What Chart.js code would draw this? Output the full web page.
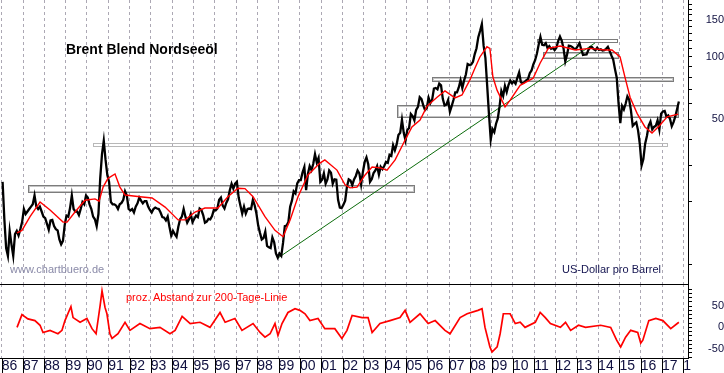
<!DOCTYPE html>
<html>
<head>
<meta charset="utf-8">
<script src="https://cdn.jsdelivr.net/npm/chart.js@4.4.1/dist/chart.umd.min.js"></script>
<style>
  html, body { margin: 0; padding: 0; background: #fff; }
  #wrap { position: relative; width: 724px; height: 373px; overflow: hidden; font-family: "Liberation Sans", Arial, sans-serif; }
  canvas { position: absolute; left: 0; }
  #main { top: 0; }
  #dev { top: 284px; }
  .lbl { position: absolute; white-space: nowrap; line-height: 1; }
</style>
</head>
<body>
<div id="wrap">
  <canvas id="main" width="724" height="284"></canvas>
  <canvas id="dev" width="724" height="89"></canvas>
  <div class="lbl" style="left:66px;top:42px;font-size:14px;font-weight:bold;color:#000;">Brent Blend Nordseeöl</div>
  <div class="lbl" style="left:10px;top:264px;font-size:11px;color:#8a8aa8;">www.chartbuero.de</div>
  <div class="lbl" style="left:562px;top:264px;font-size:11px;color:#141450;">US-Dollar pro Barrel</div>
  <div class="lbl" style="left:126px;top:292px;font-size:11px;color:#ff0000;">proz. Abstand zur 200-Tage-Linie</div>
</div>
<script>
// Brent, US-Dollar pro Barrel, one row per year (Jan..Dec)
const firstYear = 1986;
const brentMonthly = [
  [25.0, 16.5, 12.0, 11.0, 14.5, 12.5, 11.0, 14.0, 14.5, 13.8, 14.8, 16.0], // 1986
  [18.5, 17.5, 18.0, 18.5, 19.0, 19.5, 21.5, 19.0, 18.5, 19.0, 18.0, 17.0],
  [16.7, 15.7, 14.7, 16.3, 16.4, 15.3, 14.8, 14.6, 13.2, 12.5, 13.0, 15.5],
  [17.2, 17.0, 18.7, 21.5, 18.5, 18.0, 18.0, 17.3, 18.5, 20.0, 19.5, 21.5],
  [21.0, 19.5, 18.5, 17.0, 16.5, 15.3, 17.5, 26.0, 34.0, 39.5, 32.0, 27.0], // 1990
  [25.0, 20.0, 19.5, 19.5, 19.2, 18.5, 19.5, 19.8, 20.5, 22.5, 21.5, 18.5],
  [18.2, 18.5, 17.8, 19.0, 19.7, 21.0, 20.3, 19.7, 20.2, 20.2, 19.0, 18.3],
  [17.8, 18.5, 18.8, 18.6, 18.5, 17.8, 16.9, 16.8, 16.3, 17.0, 15.2, 13.8],
  [14.5, 14.0, 13.6, 15.2, 16.5, 17.0, 18.5, 17.0, 15.9, 16.5, 17.5, 16.0],
  [16.6, 17.2, 16.9, 18.6, 18.3, 17.3, 15.9, 16.1, 16.6, 16.5, 17.1, 18.3], // 1995
  [18.2, 18.6, 20.5, 21.0, 19.2, 18.6, 19.8, 20.6, 22.8, 24.5, 23.2, 24.5],
  [25.0, 21.0, 19.2, 17.6, 19.0, 17.6, 18.5, 18.6, 18.5, 20.5, 19.3, 17.6],
  [15.4, 14.2, 13.2, 13.4, 14.4, 12.3, 12.1, 12.0, 13.5, 12.8, 11.3, 10.8],
  [11.3, 11.0, 12.7, 15.3, 15.4, 16.0, 19.0, 20.3, 22.5, 22.0, 24.6, 25.5],
  [25.5, 27.8, 29.5, 22.8, 27.3, 29.8, 28.5, 30.5, 34.0, 31.0, 32.6, 25.0], // 2000
  [25.6, 27.5, 24.5, 25.7, 28.4, 27.7, 24.5, 25.7, 25.6, 20.5, 18.8, 18.7],
  [19.4, 20.3, 23.7, 25.7, 25.4, 24.1, 25.7, 26.7, 28.4, 27.5, 24.3, 28.0],
  [31.2, 32.8, 30.4, 25.0, 25.8, 27.6, 28.4, 29.8, 27.1, 29.6, 28.8, 29.8],
  [31.2, 30.9, 33.8, 33.4, 37.6, 35.5, 37.9, 42.1, 43.1, 49.8, 43.1, 39.6],
  [44.5, 45.5, 53.1, 51.9, 49.5, 55.6, 57.5, 64.0, 62.7, 58.5, 55.5, 56.8], // 2005
  [63.6, 60.0, 62.3, 70.4, 70.9, 69.8, 74.4, 73.0, 62.8, 58.4, 58.9, 62.0],
  [54.5, 58.0, 62.0, 67.5, 67.5, 71.3, 77.2, 70.8, 77.1, 82.3, 92.5, 91.5],
  [92.0, 94.8, 103.3, 110.2, 124.6, 133.5, 144.0, 113.4, 99.1, 72.8, 53.2, 40.0],
  [44.9, 43.4, 47.7, 50.6, 57.9, 68.6, 64.9, 72.5, 67.7, 73.2, 77.0, 74.7],
  [76.4, 74.3, 79.3, 84.2, 75.6, 74.8, 75.6, 77.1, 78.2, 83.5, 86.1, 92.0], // 2010
  [96.5, 103.7, 114.6, 125.0, 114.5, 113.9, 116.5, 110.4, 112.8, 109.5, 110.8, 107.9],
  [110.7, 119.3, 125.5, 119.8, 110.3, 95.2, 102.6, 113.4, 113.0, 111.5, 109.5, 109.5],
  [112.9, 116.5, 108.5, 102.3, 102.6, 102.9, 107.9, 111.3, 111.6, 109.1, 107.8, 110.8],
  [108.1, 108.9, 107.5, 107.8, 109.5, 111.9, 106.8, 101.6, 97.1, 87.4, 79.4, 60.0],
  [48.0, 58.1, 55.9, 59.5, 64.6, 62.3, 55.2, 46.6, 47.6, 48.4, 44.3, 38.0], // 2015
  [30.0, 32.2, 38.2, 41.6, 46.7, 48.8, 44.7, 46.0, 46.6, 49.5, 44.7, 53.3],
  [54.6, 54.9, 51.6, 52.3, 50.3, 46.4, 48.5, 51.7, 56.2, 61.0]
];

// red 200-day line
const maYears = [1986.72, 1986.95, 1987.33, 1987.80, 1988.27, 1988.88, 1989.07, 1989.44, 1989.91, 1990.38,
  1990.57, 1990.76, 1990.99, 1991.32, 1991.55, 1991.79, 1992.49, 1993.06, 1993.67, 1994.28,
  1994.61, 1995.08, 1995.54, 1996.15, 1996.62, 1997.09, 1997.42, 1997.80, 1998.36, 1998.83,
  1999.21, 1999.54, 1999.91, 2000.38, 2000.94, 2001.17, 2001.74, 2002.12, 2002.35, 2002.68,
  2003.06, 2003.39, 2003.77, 2004.09, 2004.47, 2004.94, 2005.26, 2005.64, 2005.97, 2006.44,
  2006.81, 2007.28, 2007.61, 2007.98, 2008.22, 2008.45, 2008.78, 2008.92, 2009.06, 2009.26,
  2009.63, 2009.87, 2010.34, 2010.95, 2011.28, 2011.66, 2012.22, 2012.92, 2013.62, 2014.32,
  2014.65, 2015.03, 2015.26, 2015.50, 2015.83, 2016.20, 2016.53, 2016.91, 2017.24, 2017.76];
const maValues = [14.2, 14.6, 17.0, 20.0, 18.3, 16.0, 16.0, 17.9, 20.4, 20.7,
  20.2, 23.6, 26.0, 27.3, 23.6, 21.6, 21.2, 20.9, 18.9, 16.4,
  16.4, 17.9, 18.7, 18.7, 21.2, 23.3, 23.2, 21.2, 17.0, 14.6,
  13.6, 16.4, 21.2, 27.0, 30.8, 31.9, 28.5, 24.2, 23.4, 23.6,
  27.0, 29.5, 29.2, 28.5, 31.9, 39.8, 46.0, 49.7, 58.0, 64.0,
  68.6, 63.5, 65.6, 77.5, 88.5, 100.0, 112.0, 110.0, 80.0, 69.0,
  57.5, 62.0, 73.0, 79.0, 93.5, 110.0, 113.0, 108.0, 110.0, 108.0,
  108.0, 100.0, 80.0, 64.0, 53.5, 46.0, 43.0, 47.0, 51.5, 53.0];

// green trend line (1998 low to 2013)
const trendYears = [1998.97, 2013.85];
const trendValues = [10.75, 116.8];

// grey support/resistance boxes: from, to (years), low, high (USD)
const boxFrom = [1987.23, 1990.29, 2004.56, 2006.20, 2011.41, 2011.13];
const boxTo   = [2005.36, 2017.24, 2017.75, 2017.52, 2014.94, 2014.89];
const boxLow  = [22.4, 37.2, 51.4, 76.6, 98.9, 118.1];
const boxHigh = [24.2, 38.5, 58.7, 80.1, 105.7, 122.1];

// lower panel: % distance to the 200-day line
const devYears = [1986.72, 1986.95, 1987.23, 1987.56, 1987.80, 1987.94, 1988.27, 1988.50, 1988.64, 1988.83,
  1988.97, 1989.25, 1989.35, 1989.68, 1990.00, 1990.24, 1990.43, 1990.62, 1990.71, 1990.85,
  1990.94, 1991.08, 1991.18, 1991.46, 1991.79, 1992.02, 1992.49, 1992.96, 1993.43, 1993.90,
  1994.14, 1994.47, 1994.85, 1995.31, 1995.78, 1996.25, 1996.49, 1996.95, 1997.28, 1997.80,
  1998.13, 1998.36, 1998.60, 1998.83, 1998.97, 1999.16, 1999.44, 1999.77, 2000.00, 2000.24,
  2000.47, 2000.85, 2001.17, 2001.64, 2001.97, 2002.21, 2002.45, 2002.92, 2003.20, 2003.39,
  2003.76, 2004.23, 2004.70, 2004.94, 2005.17, 2005.64, 2006.02, 2006.35, 2006.81, 2007.05,
  2007.52, 2007.85, 2008.36, 2008.55, 2008.69, 2008.92, 2009.02, 2009.26, 2009.40, 2009.55,
  2009.87, 2010.11, 2010.34, 2010.57, 2011.05, 2011.28, 2011.52, 2011.76, 2012.23, 2012.47,
  2012.71, 2013.08, 2013.41, 2014.12, 2014.59, 2014.87, 2015.06, 2015.29, 2015.53, 2015.86,
  2016.00, 2016.10, 2016.38, 2016.71, 2017.04, 2017.41, 2017.79];
const devValues = [0, 30, 20, 16, 5, -12, -7, -12, -15, -7,
  16, 49, 23, 12, 21, -3, -15, 51, 86, 47,
  32, -15, -26, -15, 12, -7, 9, -3, 0, -15,
  -7, 26, 9, 12, 0, 35, 12, 21, -7, 9,
  -12, -23, -15, 9, -19, 9, 35, 44, 40, 32,
  16, 21, -3, -3, -26, -7, 28, 23, 23, -12,
  9, 16, 23, 40, 12, 32, 9, 16, -7, -15,
  23, 32, 40, 44, 0, -46, -58, -46, -15, 32,
  32, 9, 12, 0, 12, 35, 23, 9, 0, 12,
  -7, 5, 0, 5, 0, -30, -46, -23, -7, -12,
  -37, -30, 16, 21, 16, -3, 12];

// axes
const yearTicks = [1986, 1987, 1988, 1989, 1990, 1991, 1992, 1993, 1994, 1995, 1996, 1997, 1998, 1999, 2000, 2001,
  2002, 2003, 2004, 2005, 2006, 2007, 2008, 2009, 2010, 2011, 2012, 2013, 2014, 2015, 2016, 2017, 2018];
const yearLabels = ['86', '87', '88', '89', '90', '91', '92', '93', '94', '95', '96', '97', '98', '99', '00', '01',
  '02', '03', '04', '05', '06', '07', '08', '09', '10', '11', '12', '13', '14', '15', '16', '17', '1'];
const priceTicks = [10, 20, 30, 40, 50, 60, 70, 80, 90, 100, 110, 120, 130, 140, 150, 160, 170, 180];
const priceLabels = [50, 100, 150];
const devTicks = [-70, -60, -50, -40, -30, -20, -10, 0, 10, 20, 30, 40, 50, 60, 70, 80, 90];
const devLabels = [-50, 0, 50];

const FONT = '"Liberation Sans", Arial, sans-serif';
const GRID = '#aca8b4';
const TICKTXT = '#101040';
const X_MIN = 1985.92, X_MAX = 2018.22;

const pricePoints = [];
brentMonthly.forEach((row, yi) => {
  row.forEach((v, m) => pricePoints.push({ x: firstYear + yi + (m + 0.5) / 12, y: v }));
});
const maPoints = maYears.map((t, i) => ({ x: t, y: maValues[i] }));
const trendPoints = trendYears.map((t, i) => ({ x: t, y: trendValues[i] }));
const devPoints = devYears.map((t, i) => ({ x: t, y: devValues[i] }));

function noPad(s) { s.paddingTop = 0; s.paddingBottom = 0; s.paddingLeft = 0; s.paddingRight = 0; }

const boxPlugin = {
  id: 'boxes',
  beforeDatasetsDraw(chart) {
    const { ctx, scales: { x, y } } = chart;
    ctx.save();
    ctx.lineWidth = 1;
    boxFrom.forEach((f, i) => {
      const x1 = Math.round(x.getPixelForValue(f)) + 0.5;
      const x2 = Math.round(x.getPixelForValue(boxTo[i])) + 0.5;
      const y1 = Math.round(y.getPixelForValue(boxHigh[i])) + 0.5;
      const y2 = Math.round(y.getPixelForValue(boxLow[i])) + 0.5;
      ctx.strokeStyle = i === 1 ? '#b8b8b8' : '#7c7c7c';
      ctx.strokeRect(x1, y1, x2 - x1, y2 - y1);
      ctx.strokeStyle = i === 1 ? '#dcdcdc' : '#c4c4c4';
      if (y2 - y1 > 3) ctx.strokeRect(x1 + 1, y1 + 1, x2 - x1 - 2, y2 - y1 - 2);
    });
    ctx.restore();
  }
};

new Chart(document.getElementById('main'), {
  type: 'line',
  data: {
    datasets: [
      { data: maPoints, borderColor: '#ff0000', borderWidth: 1.4 },
      { data: pricePoints, borderColor: '#000000', borderWidth: 2.3 },
      { data: trendPoints, borderColor: '#0b6b0b', borderWidth: 1 }
    ]
  },
  options: {
    responsive: false,
    animation: false,
    events: [],
    layout: { padding: 0 },
    elements: { point: { radius: 0 }, line: { tension: 0 } },
    plugins: { legend: { display: false }, tooltip: { enabled: false } },
    scales: {
      x: {
        type: 'linear', min: X_MIN, max: X_MAX,
        afterBuildTicks: s => { s.ticks = yearTicks.map(v => ({ value: v })); },
        afterFit: s => { s.height = 0; noPad(s); },
        ticks: { display: false },
        grid: { color: GRID, drawTicks: false },
        border: { display: false, dash: [3, 3] }
      },
      y: {
        type: 'logarithmic', position: 'right', min: 8.05, max: 188.2,
        afterBuildTicks: s => { s.ticks = priceTicks.map(v => ({ value: v })); },
        afterFit: s => { s.width = 36; noPad(s); },
        ticks: {
          autoSkip: false, padding: 10, crossAlign: 'far', color: TICKTXT,
          font: { family: FONT, size: 11 },
          callback: v => priceLabels.includes(v) ? String(v) : ''
        },
        grid: { drawOnChartArea: false, tickLength: 4, tickColor: '#000' },
        border: { color: '#000' }
      }
    }
  },
  plugins: [boxPlugin]
});

const framePlugin = {
  id: 'frame',
  afterDraw(chart) {
    const { ctx, chartArea: { left, right, top, bottom }, scales: { x } } = chart;
    ctx.save();
    ctx.strokeStyle = '#000';
    ctx.lineWidth = 1;
    ctx.beginPath();
    ctx.moveTo(left, top + 0.5);
    ctx.lineTo(right, top + 0.5);
    x.ticks.forEach(t => {
      const px = Math.round(x.getPixelForValue(t.value)) + 0.5;
      ctx.moveTo(px, bottom);
      ctx.lineTo(px, chart.height);
    });
    ctx.stroke();
    ctx.restore();
  }
};

new Chart(document.getElementById('dev'), {
  type: 'line',
  data: {
    datasets: [
      { data: devPoints, borderColor: '#ff0000', borderWidth: 1.7 }
    ]
  },
  options: {
    responsive: false,
    animation: false,
    events: [],
    layout: { padding: 0 },
    elements: { point: { radius: 0 }, line: { tension: 0 } },
    plugins: { legend: { display: false }, tooltip: { enabled: false } },
    scales: {
      x: {
        type: 'linear', min: X_MIN, max: X_MAX,
        afterBuildTicks: s => { s.ticks = yearTicks.map(v => ({ value: v })); },
        afterFit: s => { s.height = 15; noPad(s); },
        ticks: {
          align: 'start', autoSkip: false, maxRotation: 0, padding: 0, color: TICKTXT,
          font: { family: FONT, size: 14 },
          callback: (v, i) => yearLabels[i]
        },
        grid: { color: GRID, drawTicks: false },
        border: { display: true, color: '#000', dash: [3, 3] }
      },
      y: {
        type: 'linear', position: 'right', min: -72, max: 102,
        afterBuildTicks: s => { s.ticks = devTicks.map(v => ({ value: v })); },
        afterFit: s => { s.width = 36; noPad(s); },
        ticks: {
          autoSkip: false, padding: 13, crossAlign: 'far', color: TICKTXT,
          font: { family: FONT, size: 11 },
          callback: v => devLabels.includes(v) ? String(v) : ''
        },
        grid: { drawOnChartArea: false, tickLength: 4, tickColor: '#000' },
        border: { color: '#000' }
      }
    }
  },
  plugins: [framePlugin]
});
</script>
</body>
</html>
